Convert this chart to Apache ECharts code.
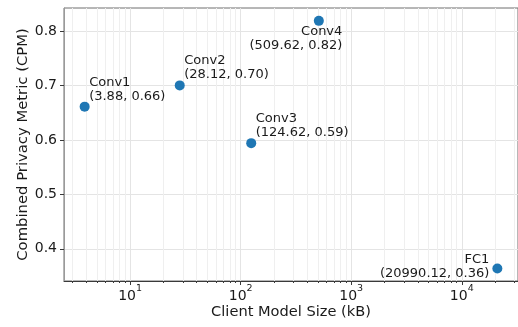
<!DOCTYPE html>
<html>
<head>
<meta charset="utf-8">
<script src="https://cdn.jsdelivr.net/npm/echarts@6/dist/echarts.min.js"></script>
<style>html,body{margin:0;padding:0;background:#fff;}#c{width:518px;height:327px;}</style>
</head>
<body>
<div id="c"></div>
<script>
// ---- data ----
const layers = ['Conv1', 'Conv2', 'Conv3', 'Conv4', 'FC1'];
const modelSizeKB = [3.88, 28.12, 124.62, 509.62, 20990.12];
const cpm = [0.661, 0.700, 0.594, 0.8184, 0.3638];
const xMajorTicks = [10, 100, 1000, 10000];
const yTicks = [0.4, 0.5, 0.6, 0.7, 0.8];

// ---- presentation ----
const FONT = 'DejaVu Sans';
const TXT = '#1a1a1a';
const labelPlacement = {
  Conv1: { position: [9.5, 1.5], align: 'left', verticalAlign: 'bottom' },
  Conv2: { position: [9.5, 1.5], align: 'left', verticalAlign: 'bottom' },
  Conv3: { position: [9.5, 1.5], align: 'left', verticalAlign: 'bottom' },
  Conv4: { position: [28.5, 9], align: 'right', verticalAlign: 'top' },
  FC1:   { position: [-3, 3], align: 'right', verticalAlign: 'middle' }
};

const xMinorTicks = [];
for (let d = 0; d <= 4; d++) {
  for (let m = 2; m <= 9; m++) {
    const v = m * Math.pow(10, d);
    if (v > 2.53 && v < 32000) xMinorTicks.push(v);
  }
}

const xMin = 2.524, xMax = 32270;
const yMin = 0.341, yMax = 0.842;

const points = layers.map((name, i) => ({
  name: name,
  value: [modelSizeKB[i], cpm[i]],
  label: Object.assign({
    show: true,
    formatter: name + '\n(' + modelSizeKB[i].toFixed(2) + ', ' + cpm[i].toFixed(2) + ')'
  }, labelPlacement[name])
}));

const chart = echarts.init(document.getElementById('c'), null, { renderer: 'canvas' });
chart.setOption({
  animation: false,
  backgroundColor: '#fff',
  textStyle: { fontFamily: FONT },
  grid: {
    left: 64, right: -3, top: 8, bottom: 46,
    show: true, borderColor: '#6e6e6e', borderWidth: 1, backgroundColor: 'transparent'
  },
  xAxis: [
    {
      type: 'log', logBase: 10, min: xMin, max: xMax,
      name: 'Client Model Size (kB)', nameLocation: 'middle', nameGap: 24, nameMoveOverlap: false,
      nameTextStyle: { fontFamily: FONT, fontSize: 14.6, color: TXT },
      axisLine: { show: true, lineStyle: { color: '#3a3a3a', width: 1 } },
      axisTick: { show: true, length: 4, lineStyle: { color: '#3a3a3a' }, customValues: xMajorTicks },
      axisLabel: {
        customValues: xMajorTicks, margin: 6,
        formatter: v => '{b|10}{s|' + Math.round(Math.log10(v)) + '}',
        rich: {
          b: { fontFamily: FONT, fontSize: 14, color: TXT, verticalAlign: 'bottom', lineHeight: 16 },
          s: { fontFamily: FONT, fontSize: 9.5, color: TXT, verticalAlign: 'bottom', lineHeight: 16, padding: [0, 0, 9, 0] }
        }
      },
      splitLine: { show: true, lineStyle: { color: '#e4e4e4', width: 1 } },
      minorTick: { show: false }, minorSplitLine: { show: false }
    },
    {
      type: 'log', logBase: 10, min: xMin, max: xMax, position: 'bottom',
      axisLine: { show: false },
      axisTick: { show: true, length: 2, lineStyle: { color: '#3a3a3a' }, customValues: xMinorTicks },
      axisLabel: { show: false, customValues: xMinorTicks },
      splitLine: { show: true, lineStyle: { color: '#efefef', width: 1 } }
    }
  ],
  yAxis: {
    type: 'value', min: yMin, max: yMax,
    name: 'Combined Privacy Metric (CPM)', nameLocation: 'middle', nameGap: 33, nameMoveOverlap: false,
    nameTextStyle: { fontFamily: FONT, fontSize: 14.8, color: TXT },
    axisLine: { show: true, lineStyle: { color: '#9a9a9a', width: 1 } },
    axisTick: { show: true, length: 4, lineStyle: { color: '#3a3a3a' }, customValues: yTicks },
    axisLabel: {
      customValues: yTicks, margin: 7, fontFamily: FONT, fontSize: 14, color: TXT,
      formatter: v => v.toFixed(1)
    },
    splitLine: { show: true, lineStyle: { color: '#e4e4e4', width: 1 } }
  },
  series: [{
    type: 'scatter', xAxisIndex: 0, yAxisIndex: 0,
    symbol: 'circle', symbolSize: 10,
    itemStyle: { color: '#1f77b4', opacity: 1 },
    label: { fontFamily: FONT, fontSize: 13, lineHeight: 14, color: TXT },
    data: points
  }]
});
</script>
</body>
</html>
